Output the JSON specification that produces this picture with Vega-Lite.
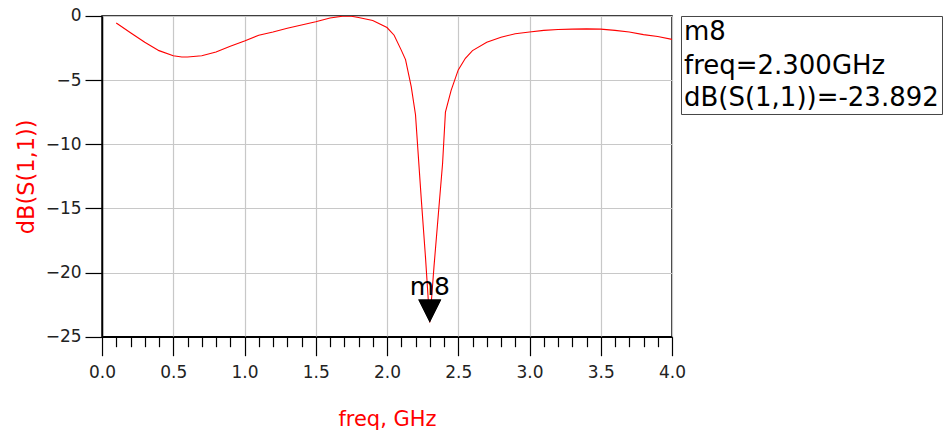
{
  "$schema": "https://vega.github.io/schema/vega-lite/v6.json",
  "width": 570,
  "height": 320.7,
  "autosize": "none",
  "padding": {"left": 102, "top": 16, "right": 273, "bottom": 99},
  "background": "white",
  "config": {
    "view": {"stroke": "black", "strokeWidth": 1.5},
    "font": "DejaVu Sans"
  },
  "resolve": {"axis": {"x": "independent"}},
  "datasets": {
    "s11": [
      {"freq": 0.1, "db": -0.55},
      {"freq": 0.2, "db": -1.3},
      {"freq": 0.3, "db": -2.05},
      {"freq": 0.4, "db": -2.7},
      {"freq": 0.5, "db": -3.1},
      {"freq": 0.56, "db": -3.2},
      {"freq": 0.6, "db": -3.2},
      {"freq": 0.7, "db": -3.1},
      {"freq": 0.8, "db": -2.8},
      {"freq": 0.9, "db": -2.35},
      {"freq": 1.0, "db": -1.95},
      {"freq": 1.1, "db": -1.5},
      {"freq": 1.2, "db": -1.25},
      {"freq": 1.3, "db": -0.95},
      {"freq": 1.4, "db": -0.7},
      {"freq": 1.5, "db": -0.45},
      {"freq": 1.6, "db": -0.15},
      {"freq": 1.7, "db": 0.0},
      {"freq": 1.75, "db": -0.02},
      {"freq": 1.8, "db": -0.12},
      {"freq": 1.9, "db": -0.35},
      {"freq": 2.0, "db": -0.9},
      {"freq": 2.05, "db": -1.5},
      {"freq": 2.1, "db": -2.66},
      {"freq": 2.13, "db": -3.4},
      {"freq": 2.17, "db": -5.5},
      {"freq": 2.2, "db": -7.7},
      {"freq": 2.24, "db": -14.2},
      {"freq": 2.27, "db": -18.8},
      {"freq": 2.3, "db": -23.892},
      {"freq": 2.33, "db": -19.5},
      {"freq": 2.36, "db": -15.5},
      {"freq": 2.39, "db": -11.5},
      {"freq": 2.41, "db": -7.5},
      {"freq": 2.45, "db": -5.8},
      {"freq": 2.5, "db": -4.2},
      {"freq": 2.55, "db": -3.3},
      {"freq": 2.6, "db": -2.7},
      {"freq": 2.7, "db": -2.05},
      {"freq": 2.8, "db": -1.65},
      {"freq": 2.9, "db": -1.38},
      {"freq": 3.0, "db": -1.25},
      {"freq": 3.1, "db": -1.12},
      {"freq": 3.2, "db": -1.05},
      {"freq": 3.3, "db": -1.02},
      {"freq": 3.4, "db": -1.0},
      {"freq": 3.5, "db": -1.02},
      {"freq": 3.6, "db": -1.12},
      {"freq": 3.7, "db": -1.25},
      {"freq": 3.8, "db": -1.45},
      {"freq": 3.9, "db": -1.6},
      {"freq": 4.0, "db": -1.82}
    ],
    "marker": [
      {"freq": 2.3, "db": -23.892, "name": "m8", "readout": "freq=2.300GHz"},
      {"freq": 2.3, "db": -23.892, "name": "m8", "readout": "dB(S(1,1))=-23.892"}
    ]
  },
  "layer": [
    {
      "data": {"name": "s11"},
      "mark": {"type": "line", "color": "#ff0000", "strokeWidth": 1.1, "clip": true},
      "encoding": {
        "x": {
          "field": "freq",
          "type": "quantitative",
          "scale": {"domain": [0, 4], "nice": false, "zero": false},
          "axis": {
            "orient": "bottom",
            "values": [0, 0.5, 1.0, 1.5, 2.0, 2.5, 3.0, 3.5, 4.0],
            "format": ".1f",
            "tickSize": 19,
            "grid": true,
            "gridColor": "#c8c8c8",
            "gridWidth": 1.2,
            "tickColor": "black",
            "tickWidth": 1.2,
            "domainColor": "black",
            "domainWidth": 1.5,
            "labelFont": "DejaVu Sans",
            "labelFontSize": 17,
            "labelColor": "#222222",
            "labelPadding": 9,
            "labelFlush": false,
            "labelOverlap": false,
            "labelBound": false,
            "title": "freq, GHz",
            "titleColor": "#ff0000",
            "titleFont": "DejaVu Sans",
            "titleFontSize": 21,
            "titleFontWeight": "normal",
            "titlePadding": 28
          }
        },
        "y": {
          "field": "db",
          "type": "quantitative",
          "scale": {"domain": [-25, 0], "nice": false, "zero": false},
          "axis": {
            "values": [-25, -20, -15, -10, -5, 0],
            "grid": true,
            "gridColor": "#c8c8c8",
            "gridWidth": 1.2,
            "tickSize": 17,
            "tickColor": "black",
            "tickWidth": 1.2,
            "domainColor": "black",
            "domainWidth": 1.5,
            "labelFont": "DejaVu Sans",
            "labelFontSize": 17,
            "labelColor": "#222222",
            "labelPadding": 4,
            "labelFlush": false,
            "labelOverlap": false,
            "title": "dB(S(1,1))",
            "titleColor": "#ff0000",
            "titleFont": "DejaVu Sans",
            "titleFontSize": 22.5,
            "titleFontWeight": "normal",
            "titlePadding": 7
          }
        }
      }
    },
    {
      "data": {"name": "marker"},
      "mark": {"type": "point", "shape": "M-1,-2L1,-2L0,0Z", "filled": true, "opacity": 1, "size": 529},
      "encoding": {
        "x": {
          "field": "freq",
          "type": "quantitative",
          "axis": {
            "orient": "bottom",
            "values": [0.1, 0.2, 0.3, 0.4, 0.6, 0.7, 0.8, 0.9, 1.1, 1.2, 1.3, 1.4, 1.6, 1.7, 1.8, 1.9, 2.1, 2.2, 2.3, 2.4, 2.6, 2.7, 2.8, 2.9, 3.1, 3.2, 3.3, 3.4, 3.6, 3.7, 3.8, 3.9],
            "tickSize": 10,
            "tickColor": "black",
            "tickWidth": 1.2,
            "grid": false,
            "labels": false,
            "domain": false,
            "title": null
          }
        },
        "y": {"field": "db", "type": "quantitative"},
        "color": {
          "field": "readout",
          "type": "nominal",
          "scale": {"domain": ["freq=2.300GHz", "dB(S(1,1))=-23.892"], "range": ["black", "black"]},
          "legend": {
            "title": "m8",
            "orient": "right",
            "offset": 9,
            "padding": 3,
            "strokeColor": "#444444",
            "fillColor": "white",
            "symbolOpacity": 0,
            "symbolSize": 0,
            "symbolStrokeWidth": 0,
            "labelOffset": -26,
            "labelFont": "DejaVu Sans",
            "labelFontSize": 26,
            "labelColor": "black",
            "labelLimit": 0,
            "rowPadding": 6,
            "titleFont": "DejaVu Sans",
            "titleFontSize": 26,
            "titleFontWeight": "normal",
            "titleColor": "black",
            "titlePadding": 8,
            "titleLimit": 0
          }
        }
      }
    },
    {
      "data": {"name": "marker"},
      "transform": [{"filter": "datum.readout == 'freq=2.300GHz'"}],
      "mark": {"type": "text", "dy": -27, "baseline": "alphabetic", "align": "center", "fontSize": 25, "font": "DejaVu Sans", "color": "black"},
      "encoding": {
        "x": {"field": "freq", "type": "quantitative", "axis": null},
        "y": {"field": "db", "type": "quantitative"},
        "text": {"field": "name"}
      }
    }
  ]
}
